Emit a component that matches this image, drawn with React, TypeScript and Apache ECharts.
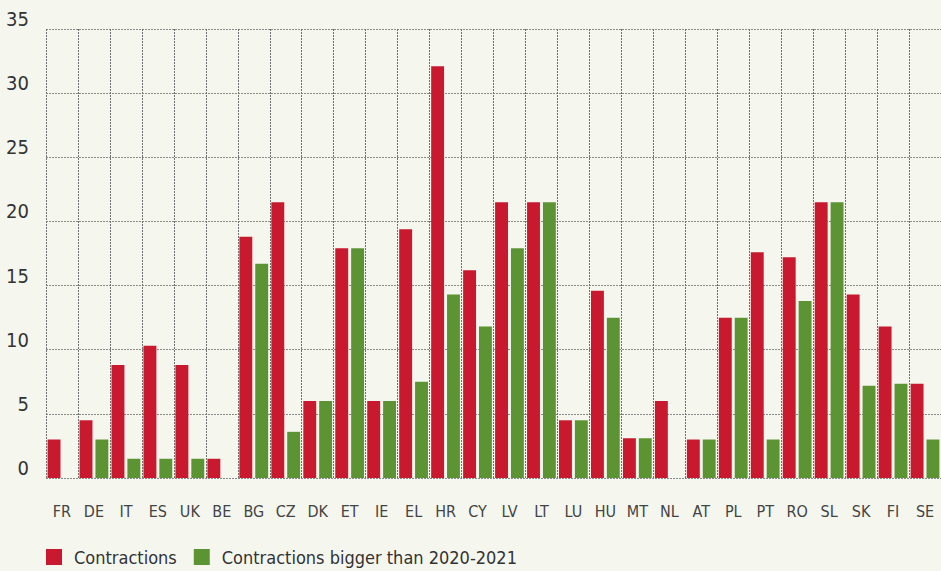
import React, { useEffect, useRef } from "react";
import * as echarts from "echarts";

const countries = ["FR", "DE", "IT", "ES", "UK", "BE", "BG", "CZ", "DK", "ET", "IE", "EL", "HR", "CY", "LV", "LT", "LU", "HU", "MT", "NL", "AT", "PL", "PT", "RO", "SL", "SK", "FI", "SE"];
const contractions = [3, 4.5, 8.8, 10.3, 8.8, 1.5, 18.8, 21.5, 6, 17.9, 6, 19.4, 32.1, 16.2, 21.5, 21.5, 4.5, 14.6, 3.1, 6, 3, 12.5, 17.6, 17.2, 21.5, 14.3, 11.8, 7.35];
const biggerThan2020 = [0, 3, 1.5, 1.5, 1.5, 0, 16.7, 3.6, 6, 17.9, 6, 7.5, 14.3, 11.8, 17.9, 21.5, 4.5, 12.5, 3.1, 0, 3, 12.5, 3, 13.8, 21.5, 7.2, 7.35, 3];
const seriesNames = ["Contractions", "Contractions bigger than 2020-2021"];
const yTicks = { min: 0, max: 35, interval: 5 };

const FONT = "'Liberation Sans Narrow', 'DejaVu Sans Condensed', 'Roboto', sans-serif";

export default function App() {
  const ref = useRef<HTMLDivElement>(null);
  useEffect(() => {
    const chart = echarts.init(ref.current!, null, { renderer: "svg" });
    chart.setOption({
      animation: false,
      backgroundColor: "#f5f7ef",
      grid: { left: 46, right: -7, top: 29, bottom: 93, containLabel: false },
      legend: {
        left: 41,
        top: 543,
        itemWidth: 16,
        itemHeight: 16,
        itemGap: 17,
        icon: "rect",
        textStyle: { fontFamily: FONT, fontSize: 18, color: "#333", padding: [0, 0, 0, 7] },
        data: seriesNames,
      },
      xAxis: {
        type: "category",
        data: countries,
        axisLine: { show: false },
        axisTick: { show: false },
        axisLabel: { fontFamily: FONT, fontSize: 16, color: "#444", margin: 25 },
        splitLine: { show: true, lineStyle: { color: "#707070", type: [2, 1], width: 1 } },
      },
      yAxis: {
        type: "value",
        min: yTicks.min,
        max: yTicks.max,
        interval: yTicks.interval,
        axisLine: { show: false },
        axisTick: { show: false },
        axisLabel: { fontFamily: FONT, fontSize: 20, color: "#333", margin: 17, verticalAlign: "bottom" },
        splitLine: { show: true, lineStyle: { color: "#8a8a8a", type: [2, 1], width: 1 } },
      },
      series: [
        {
          name: seriesNames[0],
          type: "bar",
          data: contractions,
          itemStyle: { color: "#c8192e" },
          barGap: "23%",
          barCategoryGap: "10%",
        },
        {
          name: seriesNames[1],
          type: "bar",
          data: biggerThan2020,
          itemStyle: { color: "#5d9433" },
          barGap: "23%",
          barCategoryGap: "10%",
        },
      ],
    });
    return () => chart.dispose();
  }, []);
  return <div ref={ref} style={{ position: "fixed", left: 0, top: 0, width: 941, height: 571 }} />;
}
